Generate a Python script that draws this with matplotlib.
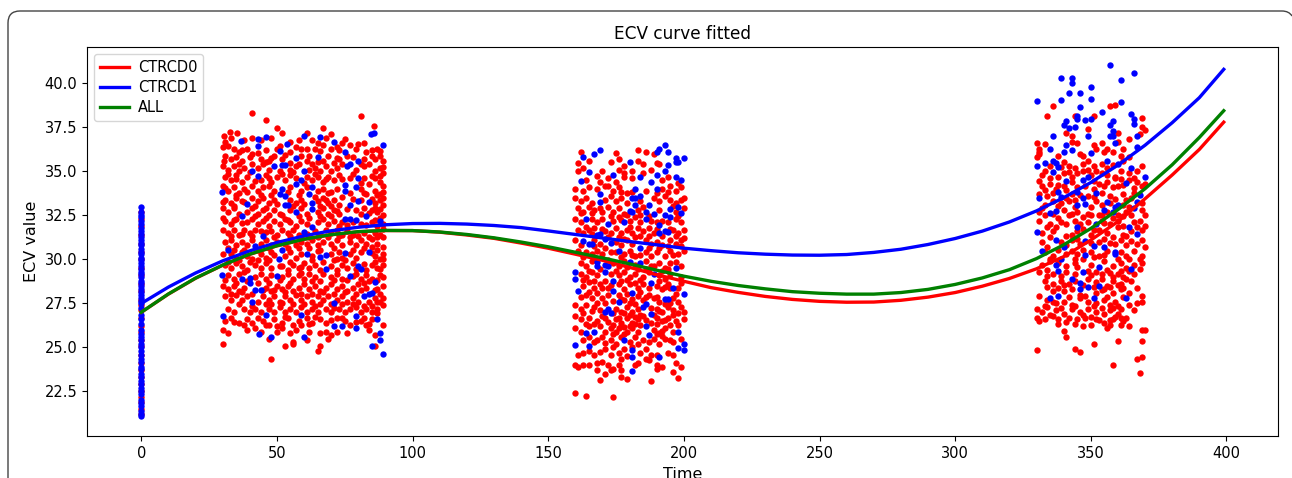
import matplotlib
matplotlib.use('Agg')
import matplotlib.pyplot as plt
from matplotlib.patches import PathPatch
from matplotlib.path import Path
from matplotlib.transforms import IdentityTransform

# values
curve_t = [0, 10, 20, 30, 40, 50, 60, 70, 80, 90, 100, 110, 120, 130, 140, 150, 160, 170, 180, 190, 200, 210, 220, 230, 240, 250, 260, 270, 280, 290, 300, 310, 320, 330, 340, 350, 360, 370, 380, 390, 399]
curve_red = [27.0, 28.03, 28.93, 29.67, 30.29, 30.77, 31.14, 31.40, 31.57, 31.64, 31.64, 31.55, 31.39, 31.2, 30.93, 30.64, 30.3, 29.95, 29.55, 29.13, 28.76, 28.4, 28.13, 27.9, 27.73, 27.62, 27.57, 27.58, 27.68, 27.86, 28.12, 28.48, 28.92, 29.47, 30.16, 31.1, 32.15, 33.45, 34.8, 36.25, 37.8]
curve_blue = [27.5, 28.43, 29.23, 29.92, 30.49, 30.96, 31.34, 31.63, 31.83, 31.97, 32.04, 32.05, 32.01, 31.93, 31.81, 31.62, 31.42, 31.22, 31.02, 30.83, 30.64, 30.5, 30.38, 30.3, 30.25, 30.24, 30.28, 30.4, 30.58, 30.85, 31.19, 31.61, 32.13, 32.76, 33.51, 34.37, 35.36, 36.49, 37.77, 39.19, 40.8]
curve_all = [27.0, 28.04, 28.94, 29.68, 30.30, 30.78, 31.15, 31.41, 31.58, 31.65, 31.64, 31.56, 31.42, 31.23, 30.99, 30.72, 30.41, 30.09, 29.75, 29.39, 29.05, 28.76, 28.52, 28.33, 28.17, 28.08, 28.03, 28.03, 28.12, 28.3, 28.58, 28.95, 29.42, 30.05, 30.83, 31.76, 32.83, 34.02, 35.38, 36.93, 38.45]

zero_red = [21.2, 21.5, 21.9, 22.2, 22.5, 22.9, 23.3, 23.7, 24.1, 24.6, 25.1, 25.4, 25.9, 26.2, 26.7, 27.1, 27.4, 27.7, 28.2, 28.6, 29.1, 29.5, 30.0, 30.4, 30.9, 31.4, 31.9, 32.3, 32.7]
zero_blue = [21.1, 21.2, 21.4, 21.7, 21.85, 22.0, 22.35, 22.55, 22.7, 22.95, 23.1, 23.35, 23.5, 23.75, 23.9, 24.15, 24.35, 24.6, 24.8, 25.0, 25.2, 25.4, 25.6, 25.75, 26.0, 26.35, 26.6, 26.85, 27.25, 27.5, 27.65, 27.8, 28.0, 28.15, 28.3, 28.5, 28.65, 28.8, 29.0, 29.15, 29.3, 29.45, 29.6, 29.8, 29.95, 30.1, 30.3, 30.45, 30.6, 30.8, 30.95, 31.1, 31.3, 31.45, 31.6, 31.8, 32.0, 32.2, 32.4, 32.5, 32.7, 33.0]

first_blue = [(36.9, 36.75), (42.9, 36.85), (46, 36.95), (42.9, 36.47), (53.9, 36.55), (60, 37.0), (66, 36.95), (71, 36.7), (89, 36.5), (84.8, 37.15), (85.9, 37.2), (51, 36.15), (75, 36.1), (56.9, 35.75), (65, 35.8), (80, 35.6), (77, 35.4), (76, 35.3), (52, 35.35), (53, 35.35), (49, 35.3), (41, 35.0), (43, 34.75), (60, 35.0), (80, 34.65), (59, 34.5), (57, 34.3), (75, 34.25), (63, 34.1), (79, 34.1), (75, 33.9), (29.9, 33.85), (52, 34.0), (51, 33.7), (53, 33.6), (62, 33.7), (80, 33.3), (84, 33.25), (63, 33.2), (39, 33.15), (53, 33.1), (54, 33.1), (77, 33.1), (63, 32.85), (57, 32.7), (37, 32.45), (83, 32.45), (75, 32.3), (77, 32.3), (79, 32.25), (88, 32.2), (63, 31.85), (60, 31.55), (45, 31.35), (31.8, 30.54), (42, 30.77), (51.9, 30.54), (50.9, 30.0), (61, 30.33), (65.9, 30.12), (68, 30.27), (75, 30.37), (84, 30.45), (68, 29.44), (80, 29.6), (81, 29.45), (29.9, 29.1), (50, 29.08), (77, 29.08), (37, 28.87), (40, 28.93), (40, 28.65), (86, 28.74), (42, 28.25), (44, 28.25), (85, 28.1), (84, 28.05), (82, 27.9), (41, 27.6), (71, 27.5), (30, 26.8), (46, 26.83), (59, 26.85), (79, 26.8), (87, 26.6), (71, 26.2), (74, 26.2), (79, 26.1), (88, 25.85), (43.5, 25.75), (48, 25.6), (60, 25.6), (88, 25.4), (85, 25.1), (89, 24.65)]

first_red = [(40.9, 38.34), (46, 37.93), (81, 38.17), (85.9, 37.57), (49.9, 37.47), (66.9, 37.47), (52, 37.2), (61, 37.2), (70, 37.1), (32.8, 37.26), (35.3, 37.2), (30.5, 37.0),
    (31, 36.7), (33, 36.9), (38, 36.8), (41, 36.9), (44, 36.8), (48, 36.9), (55, 36.7), (58, 36.8), (63, 36.8), (65, 36.6), (68, 36.9), (72, 36.4), (74, 36.6), (77, 36.5), (79, 36.3), (82, 36.6), (87, 36.3), (30, 36.4), (34, 36.3), (36, 36.1), (39, 36.3), (41, 36.0), (46, 36.2), (50, 36.3), (55, 36.1), (57, 36.4), (61, 36.3), (64, 36.3), (67, 36.5), (70, 36.3), (73, 36.2), (83, 36.1), (85, 36.2),
    (31, 35.9), (33, 35.7), (35, 35.8), (37, 35.6), (40, 35.8), (44, 35.7), (47, 35.6), (49, 35.9), (52, 35.7), (55, 35.5), (59, 35.9), (61, 35.6), (63, 35.4), (67, 35.6), (69, 35.9), (71, 35.5), (73, 35.7), (78, 35.8), (82, 35.7), (84, 35.4), (86, 35.7), (88, 35.9), (89, 35.6),
    (30, 35.3), (32, 35.1), (34, 35.3), (36, 35.0), (38, 35.2), (43, 35.2), (45, 35.4), (47, 35.1), (51, 35.0), (55, 35.1), (57, 35.3), (62, 35.1), (64, 35.2), (66, 35.0), (68, 35.3), (70, 35.0), (72, 35.2), (74, 35.4), (79, 35.1), (82, 35.3), (86, 35.0), (88, 35.2), (89, 34.9),
    (31, 34.7), (33, 34.5), (35, 34.8), (37, 34.4), (39, 34.7), (44, 34.5), (46, 34.8), (48, 34.4), (50, 34.7), (53, 34.5), (55, 34.8), (57, 34.6), (61, 34.7), (63, 34.5), (65, 34.7), (67, 34.4), (69, 34.7), (71, 34.5), (73, 34.8), (77, 34.6), (82, 34.6), (84, 34.3), (86, 34.6), (88, 34.4), (89, 34.2),
    (30, 34.2), (32, 33.9), (34, 34.1), (36, 33.8), (38, 34.0), (41, 34.2), (43, 33.9), (45, 34.1), (47, 34.2), (49, 33.9), (55, 34.1), (59, 33.9), (61, 34.1), (65, 33.9), (67, 34.0), (69, 33.8), (72, 34.0), (77, 33.8), (81, 34.0), (83, 33.7), (86, 33.9), (88, 33.7),
    (31, 33.4), (33, 33.2), (35, 33.5), (37, 33.3), (41, 33.5), (43, 33.3), (45, 33.5), (47, 33.2), (49, 33.4), (55, 33.4), (57, 33.2), (59, 33.4), (65, 33.3), (67, 33.5), (69, 33.2), (71, 33.4), (73, 33.1), (81, 33.4), (86, 33.2), (88, 33.4), (89, 33.1),
    (30, 32.9), (32, 32.7), (34, 32.9), (36, 32.6), (39, 32.7), (41, 32.9), (43, 32.6), (45, 32.8), (47, 32.5), (49, 32.8), (51, 32.6), (55, 32.8), (59, 32.9), (61, 32.6), (65, 32.7), (67, 32.9), (69, 32.6), (71, 32.8), (73, 32.6), (79, 32.8), (81, 32.6), (85, 32.8), (87, 32.7), (89, 32.5),
    (31, 32.2), (33, 32.0), (35, 32.3), (39, 32.1), (41, 32.3), (43, 32.0), (45, 32.2), (47, 31.9), (49, 32.2), (51, 32.0), (53, 32.3), (55, 32.1), (57, 31.9), (59, 32.2), (61, 32.0), (65, 32.1), (67, 32.3), (69, 32.0), (71, 32.2), (73, 31.9), (81, 32.0), (85, 32.1), (87, 31.9), (89, 32.0),
    (30, 31.7), (32, 31.5), (34, 31.7), (36, 31.4), (38, 31.7), (40, 31.5), (42, 31.7), (44, 31.6), (48, 31.6), (50, 31.4), (52, 31.7), (54, 31.5), (56, 31.7), (58, 31.4), (62, 31.3), (64, 31.6), (66, 31.4), (68, 31.7), (70, 31.5), (72, 31.7), (74, 31.4), (76, 31.6), (78, 31.4), (82, 31.5), (84, 31.3), (86, 31.5), (88, 31.4),
    (31, 31.0), (33, 31.1), (35, 30.8), (37, 31.0), (39, 30.8), (41, 31.1), (44, 30.9), (46, 31.1), (48, 30.8), (50, 31.0), (53, 30.9), (55, 31.1), (57, 30.8), (59, 31.0), (61, 30.9), (63, 31.1), (65, 30.8), (67, 31.0), (70, 30.9), (72, 31.1), (74, 30.8), (77, 31.0), (79, 30.8), (81, 31.1), (83, 30.9), (85, 30.7), (87, 30.9), (89, 30.7),
    (30, 30.3), (33, 30.3), (35, 30.1), (37, 30.4), (39, 30.2), (41, 30.0), (44, 30.3), (46, 30.1), (48, 30.4), (53, 30.2), (55, 30.4), (57, 30.1), (59, 30.3), (63, 30.2), (65, 30.5), (70, 30.3), (72, 30.0), (74, 30.1), (77, 30.3), (79, 30.1), (81, 30.4), (86, 30.2), (88, 30.0), (89, 30.3),
    (31, 29.7), (33, 29.5), (35, 29.8), (37, 29.6), (39, 29.4), (42, 29.7), (44, 29.5), (46, 29.8), (48, 29.5), (52, 29.6), (54, 29.4), (56, 29.7), (58, 29.5), (60, 29.8), (62, 29.5), (64, 29.7), (66, 29.4), (70, 29.6), (72, 29.4), (74, 29.7), (76, 29.5), (78, 29.8), (83, 29.4), (85, 29.7), (87, 29.5), (89, 29.7),
    (32, 29.1), (34, 28.9), (36, 29.2), (38, 29.3), (42, 29.0), (44, 29.2), (46, 28.9), (48, 29.1), (52, 29.0), (54, 29.2), (56, 28.9), (58, 29.1), (60, 28.9), (62, 29.2), (64, 29.0), (66, 28.8), (70, 29.0), (72, 29.2), (74, 28.9), (79, 29.2), (81, 28.9), (83, 29.1), (85, 28.9), (88, 29.1),
    (30, 28.5), (32, 28.3), (34, 28.5), (36, 28.2), (38, 28.4), (46, 28.4), (48, 28.2), (50, 28.5), (52, 28.3), (54, 28.5), (56, 28.2), (58, 28.4), (60, 28.6), (62, 28.3), (64, 28.5), (66, 28.2), (68, 28.4), (70, 28.6), (72, 28.3), (74, 28.5), (76, 28.2), (78, 28.4), (80, 28.6), (83, 28.4), (87, 28.3), (89, 28.5),
    (31, 27.9), (33, 27.7), (35, 28.0), (37, 27.7), (39, 27.9), (43, 27.6), (45, 27.9), (47, 27.7), (49, 27.9), (51, 27.6), (53, 27.9), (55, 27.7), (57, 28.0), (59, 27.7), (61, 27.9), (63, 27.6), (65, 27.9), (67, 27.7), (69, 27.9), (72, 27.7), (74, 27.9), (76, 27.6), (78, 27.8), (80, 27.6), (84, 27.6), (86, 27.8), (88, 27.6),
    (32, 27.2), (34, 27.0), (38, 27.2), (40, 27.0), (42, 27.2), (44, 27.0), (47, 27.2), (49, 27.0), (51, 27.3), (53, 27.0), (55, 27.2), (57, 27.0), (59, 27.3), (61, 27.0), (63, 27.2), (65, 27.0), (68, 27.2), (70, 27.0), (73, 27.2), (75, 27.0), (77, 27.2), (79, 27.3), (81, 27.0), (83, 27.2), (85, 27.0), (87, 27.2),
    (31, 26.5), (33, 26.7), (36, 26.4), (39, 26.6), (41, 26.4), (45, 26.5), (47, 26.3), (49, 26.6), (52, 26.4), (54, 26.7), (56, 26.3), (58, 26.5), (61, 26.7), (63, 26.4), (66, 26.6), (68, 26.4), (72, 26.7), (75, 26.5), (77, 26.3), (81, 26.5), (83, 26.3), (85, 26.6),
    (30, 26.0), (32, 25.8), (39, 26.0), (42, 26.1), (44, 25.9), (50, 25.9), (52, 26.1), (55, 25.8), (57, 26.0), (62, 25.9), (66, 25.8), (68, 25.9), (70, 25.7), (72, 25.9), (76, 25.8), (84, 26.0), (86, 25.7),
    (30, 25.2), (48, 24.35), (53, 25.1), (56, 25.3), (65, 24.8), (66, 25.1), (86, 25.1), (47, 25.5), (56, 25.2), (69, 25.5), (61, 25.4)]

# second pass over the dense part of the first group
first_red_more = [(32, 36.45), (37, 36.2), (43, 36.05), (48, 35.75), (51, 36.45), (59, 36.25), (62, 35.85), (66, 36.15), (75, 36.85), (80, 36.55), (88, 36.15), (30.5, 35.6), (36, 35.45), (41, 35.45), (46, 35.55), (53, 35.95), (58, 35.45), (65, 35.55), (72, 35.75), (76, 35.85), (81, 35.45), (85, 35.85), (89, 35.25),
    (32, 34.85), (35, 34.55), (40, 34.95), (42, 34.45), (47, 34.65), (52, 34.85), (56, 34.95), (60, 34.35), (64, 34.85), (68, 34.55), (74, 34.55), (78, 34.85), (81, 34.35), (85, 34.75), (88, 34.75), (89, 33.85),
    (31, 34.05), (35, 33.65), (39, 33.85), (44, 33.65), (48, 33.65), (54, 33.85), (58, 33.65), (64, 33.55), (68, 33.35), (70, 33.85), (74, 33.55), (78, 33.45), (82, 33.75), (85, 33.45), (87, 33.65), (89, 33.5),
    (30, 33.25), (34, 33.05), (38, 33.25), (42, 33.05), (46, 32.95), (50, 33.15), (56, 33.05), (60, 33.15), (66, 33.05), (70, 33.05), (72, 32.75), (76, 32.85), (82, 32.95), (84, 32.65), (86, 32.95), (88, 32.85),
    (30, 32.35), (34, 32.25), (37, 32.05), (42, 32.45), (46, 32.35), (52, 32.55), (54, 32.25), (58, 32.45), (62, 32.35), (66, 32.45), (70, 32.45), (74, 32.15), (76, 31.95), (78, 32.15), (83, 31.95), (86, 32.25), (88, 32.35), (89, 31.75),
    (33, 31.35), (37, 31.45), (41, 31.35), (46, 31.55), (49, 31.25), (55, 31.35), (59, 31.25), (61, 31.45), (65, 31.25), (69, 31.25), (73, 31.35), (77, 31.25), (80, 31.35), (85, 31.15), (87, 31.25), (89, 31.25),
    (32, 30.65), (34, 30.55), (38, 30.55), (43, 30.55), (47, 30.65), (49, 30.25), (54, 30.65), (58, 30.65), (62, 30.65), (66, 30.55), (71, 30.65), (73, 30.45), (78, 30.55), (82, 30.65), (85, 30.35), (87, 30.55), (89, 30.0),
    (32, 29.85), (36, 29.95), (40, 29.85), (43, 29.95), (47, 29.95), (51, 29.65), (55, 29.85), (59, 29.55), (63, 29.95), (67, 29.85), (71, 29.95), (75, 29.95), (79, 29.45), (82, 29.75), (86, 29.85), (88, 29.45),
    (31, 28.85), (35, 28.65), (39, 28.75), (43, 28.65), (47, 28.65), (51, 28.85), (55, 28.65), (59, 29.25), (63, 28.75), (67, 29.15), (71, 28.85), (76, 28.85), (78, 29.05), (82, 28.65), (84, 28.75), (87, 28.85), (89, 29.0),
    (33, 28.05), (37, 28.15), (41, 28.05), (45, 28.25), (49, 28.25), (53, 28.15), (59, 28.05), (63, 28.05), (67, 28.15), (71, 28.05), (75, 28.15), (79, 28.05), (81, 28.25), (86, 28.25), (88, 28.05), (89, 27.8),
    (36, 27.45), (41, 27.35), (46, 27.45), (48, 27.45), (52, 27.55), (56, 27.45), (60, 27.45), (64, 27.35), (66, 27.45), (70, 27.45), (71, 27.25), (74, 27.45), (78, 27.45), (82, 27.35), (85, 27.35), (87, 27.6), (89, 27.4),
    (34, 26.45), (38, 26.25), (43, 26.65), (46, 26.25), (50, 26.2), (53, 26.75), (59, 26.25), (62, 26.35), (64, 26.75), (70, 26.55), (74, 26.65), (79, 26.45), (82, 26.65), (84, 26.35), (87, 26.95), (89, 26.3)]

second_blue = [(169, 36.2), (167, 36.0), (163, 35.8), (193, 36.5), (191, 36.26), (190, 36.13), (194, 36.13), (197, 35.77), (200, 35.79), (197, 35.52), (198, 35.52), (194, 35.35), (180, 35.56), (193, 35.0), (165, 34.95), (174, 34.8), (184, 34.7), (190, 34.8), (197, 34.67), (199, 34.5), (162, 34.46), (188, 34.4), (190, 34.0), (182, 34.0), (169, 33.7), (184, 33.6), (181, 33.5), (182, 33.5), (169, 33.27), (182, 33.1), (187, 33.1), (198, 33.0), (180, 32.75), (181, 32.7), (186, 32.7), (199, 32.66), (189, 32.6), (193, 32.5), (195, 32.85), (195, 32.4), (164, 32.3), (186, 32.3), (178, 32.1), (172, 32.0), (191, 31.96), (191, 31.5), (193, 31.6), (194, 31.55), (169, 31.45), (168, 31.37), (163, 31.07), (165, 30.9), (166, 30.9), (171, 31.15), (173, 30.96), (184, 30.65), (176, 30.5), (168, 29.85), (168, 29.6), (171, 29.7), (172, 29.65), (180, 29.84), (184, 29.8), (171, 29.3), (160, 29.3), (160, 28.9), (174, 28.8), (197, 29.5), (189, 29.2), (188, 28.65), (196, 28.4), (161, 28.2), (174, 28.2), (181, 28.1), (200, 28.05), (193, 27.74), (194, 27.74), (176, 27.57), (186, 27.47), (185, 27.3), (172, 27.17), (171, 27.0), (173, 26.96), (188, 26.9), (186, 26.2), (167, 25.9), (164, 25.8), (198, 25.9), (187, 25.7), (178, 25.45), (160, 25.16), (165, 25.07), (200, 25.2), (198, 24.97), (200, 24.84), (181, 24.84), (181, 24.44), (191, 24.44), (181, 23.65)]

second_red = [(162, 36.1), (175, 36.05), (183, 36.2), (186, 36.1), (189, 36.0), (161, 35.5), (165, 35.6), (173, 35.55), (176, 35.7), (178, 35.3), (183, 35.6), (185, 35.4), (190, 35.5), (161, 35.0), (163, 35.2), (170, 35.0), (176, 35.1), (178, 34.9), (181, 35.0), (185, 34.9), (188, 35.1), (191, 35.4), (164, 34.5), (169, 34.4), (172, 34.6), (175, 34.4), (178, 34.7), (181, 34.6), (192, 34.5), (194, 34.7), (160, 34.0), (163, 33.9), (165, 34.1), (168, 34.0), (171, 34.2), (174, 33.9), (176, 34.1), (179, 33.8), (186, 33.9), (192, 34.0), (195, 34.2), (197, 33.9), (199, 34.1),
    (160, 33.5), (162, 33.3), (164, 33.5), (166, 33.2), (171, 33.4), (173, 33.6), (175, 33.3), (177, 33.5), (179, 33.2), (184, 33.3), (189, 33.5), (191, 33.3), (193, 33.6), (195, 33.4), (197, 33.2), (200, 33.5), (161, 32.9), (163, 32.7), (165, 33.0), (167, 32.8), (170, 32.7), (172, 33.0), (174, 32.7), (176, 32.9), (178, 32.6), (183, 32.8), (185, 33.0), (191, 32.8), (197, 32.7), (200, 32.9), (160, 32.3), (162, 32.1), (166, 32.3), (168, 32.1), (170, 32.3), (174, 32.2), (176, 32.4), (180, 32.2), (182, 32.4), (184, 32.1), (188, 32.2), (192, 32.2), (197, 32.3), (199, 32.1),
    (161, 31.7), (163, 31.5), (165, 31.7), (167, 31.8), (171, 31.6), (173, 31.5), (175, 31.8), (177, 31.5), (179, 31.7), (181, 31.5), (183, 31.8), (185, 31.6), (187, 31.8), (189, 31.5), (196, 31.7), (198, 31.5), (200, 31.7), (160, 31.1), (162, 30.8), (167, 31.1), (169, 30.9), (175, 31.0), (177, 30.8), (179, 31.1), (181, 30.9), (186, 31.1), (188, 30.9), (190, 31.0), (192, 30.8), (195, 31.1), (197, 30.9), (199, 31.1), (161, 30.5), (164, 30.4), (166, 30.3), (168, 30.5), (170, 30.3), (173, 30.4), (178, 30.3), (180, 30.5), (182, 30.2), (186, 30.4), (188, 30.2), (190, 30.4), (193, 30.2), (195, 30.5), (198, 30.3), (200, 30.5),
    (162, 29.8), (164, 29.6), (166, 29.9), (174, 29.8), (176, 29.6), (178, 29.9), (182, 29.7), (186, 29.9), (188, 29.6), (191, 29.8), (193, 29.5), (195, 29.8), (199, 29.6), (162, 29.2), (164, 29.0), (166, 29.3), (168, 29.1), (173, 29.2), (176, 29.1), (178, 29.3), (180, 29.0), (182, 29.2), (185, 29.0), (187, 29.3), (191, 29.1), (193, 28.9), (195, 29.2), (199, 29.0), (163, 28.5), (165, 28.7), (167, 28.4), (169, 28.6), (171, 28.8), (172, 28.4), (176, 28.6), (178, 28.3), (180, 28.6), (183, 28.4), (185, 28.6), (190, 28.5), (192, 28.3), (194, 28.6), (198, 28.4),
    (164, 28.0), (166, 27.8), (168, 28.1), (170, 27.8), (172, 28.0), (176, 28.0), (178, 27.7), (180, 27.5), (183, 27.9), (185, 27.7), (187, 28.0), (189, 27.8), (191, 27.6), (196, 27.8), (198, 27.6), (160, 27.4), (162, 27.2), (164, 27.4), (167, 27.3), (169, 27.1), (175, 27.2), (177, 27.0), (179, 27.3), (181, 27.0), (183, 27.2), (190, 27.2), (192, 27.0), (194, 27.3), (196, 27.1), (199, 27.3), (200, 27.0), (160, 26.8), (162, 26.6), (165, 26.7), (168, 26.5), (170, 26.8), (175, 26.6), (177, 26.4), (179, 26.7), (181, 26.4), (183, 26.6), (185, 26.8), (190, 26.7), (192, 26.5), (194, 26.7), (197, 26.5),
    (160, 26.1), (162, 25.9), (165, 26.2), (169, 26.2), (171, 25.9), (173, 26.1), (175, 25.9), (177, 26.2), (179, 25.9), (181, 26.1), (183, 25.9), (189, 26.0), (191, 25.8), (193, 26.1), (196, 25.9), (163, 25.4), (165, 25.6), (168, 25.4), (170, 25.6), (173, 25.4), (175, 25.2), (177, 25.6), (180, 25.3), (182, 25.6), (185, 25.4), (189, 25.5), (191, 25.2), (193, 25.5), (196, 25.3), (199, 25.5), (163, 24.7), (165, 24.8), (171, 24.9), (173, 24.6), (176, 24.7), (178, 24.9), (179, 24.5), (184, 24.7), (186, 24.9), (188, 24.6), (194, 24.7), (160, 24.0), (161, 23.9), (163, 24.0), (165, 24.0), (168, 24.1), (170, 24.2), (172, 24.0), (174, 23.8), (176, 24.0), (182, 24.0), (183, 24.1), (187, 24.3), (190, 24.0), (192, 23.9), (197, 24.1), (199, 23.9), (168, 23.7), (171, 23.5), (173, 23.7), (177, 23.7), (190, 23.8),
    (160, 22.43), (164, 22.25), (174, 22.2), (188, 23.1), (169, 23.13), (177, 23.3), (179, 23.2), (198, 23.25), (196, 23.6)]

second_red_more = [(168, 34.75), (172, 34.15), (177, 33.85), (181, 33.85), (190, 33.75), (194, 33.85), (198, 34.35), (199, 33.35), (162, 32.65), (166, 32.65), (169, 32.95), (173, 32.45), (177, 32.25), (179, 32.55), (184, 32.55), (187, 32.45), (190, 32.15), (194, 32.15), (196, 33.05), (198, 32.45), (164, 31.85), (166, 31.45), (170, 31.75), (172, 31.25), (176, 31.25), (178, 31.15), (180, 31.85), (182, 31.25), (184, 31.35), (187, 31.35), (190, 31.75), (192, 31.35), (195, 31.75), (197, 31.35), (200, 31.2),
    (163, 30.15), (167, 30.75), (171, 30.65), (175, 30.45), (177, 30.15), (181, 30.25), (184, 30.25), (187, 30.65), (191, 30.65), (194, 30.75), (196, 30.25), (199, 30.75), (165, 29.35), (169, 29.45), (172, 29.95), (175, 29.35), (179, 29.55), (183, 29.45), (186, 29.45), (189, 29.65), (192, 29.35), (194, 29.45), (197, 29.85), (163, 28.85), (167, 28.75), (170, 28.35), (173, 28.55), (177, 28.75), (179, 28.85), (182, 28.65), (184, 28.85), (187, 28.35), (191, 28.75), (193, 28.45), (195, 28.35), (199, 28.65),
    (162, 27.85), (165, 28.15), (168, 27.55), (171, 27.55), (174, 27.65), (177, 27.75), (179, 28.05), (181, 27.75), (182, 27.45), (184, 28.15), (186, 27.85), (188, 27.25), (190, 27.85), (193, 27.45), (195, 27.55), (197, 28.05), (163, 26.95), (166, 27.05), (171, 26.65), (174, 26.95), (176, 26.65), (178, 26.95), (180, 26.85), (182, 26.75), (184, 26.85), (186, 26.55), (189, 26.85), (191, 27.05), (193, 26.55), (196, 26.85), (198, 26.95), (200, 26.6),
    (164, 26.35), (167, 26.35), (172, 26.45), (174, 26.25), (176, 26.1), (178, 26.15), (180, 26.2), (182, 26.35), (184, 26.25), (188, 26.4), (190, 26.35), (192, 25.95), (195, 26.25), (198, 26.25), (167, 25.3), (171, 25.25), (174, 25.75), (178, 25.75), (183, 25.2), (187, 25.3), (190, 25.75), (192, 25.65), (195, 25.45), (161, 24.55), (167, 24.55), (169, 24.75), (174, 25.05), (177, 24.35), (181, 25.05), (186, 24.35), (190, 24.55), (196, 24.55)]

third_blue = [(357, 41.05), (366, 40.6), (339, 40.3), (343, 40.3), (343, 40.0), (361, 40.2), (350, 39.8), (342, 39.44), (346, 39.48), (350, 39.13), (339, 39.06), (330, 39.0), (361, 38.93), (346, 38.64), (354, 38.4), (365, 38.28), (366, 38.0), (345, 38.17), (345, 38.0), (348, 37.9), (350, 38.0), (341, 37.87), (340, 37.64), (344, 37.54), (342, 37.45), (358, 37.85), (357, 37.62), (366, 37.7), (358, 37.3), (357, 37.0), (358, 37.0), (349, 37.0), (336, 37.0), (367, 37.0), (359, 36.6), (335, 36.3), (343, 36.24), (340, 36.12), (341, 36.5), (367, 36.4), (350, 36.03), (356, 35.6), (336, 35.6), (333, 35.5), (330, 35.3), (337, 35.46), (338, 35.27), (360, 35.4), (365, 35.18), (336, 34.95), (370, 34.7), (349, 34.66), (347, 34.53), (341, 34.46), (363, 34.34), (338, 33.83), (345, 33.83), (352, 33.75), (339, 33.53), (347, 33.5), (331, 33.47), (368, 33.66), (356, 33.26), (367, 33.26), (345, 33.07), (348, 33.13), (360, 33.07), (359, 33.0), (355, 32.83), (358, 32.68), (337, 32.75), (335, 32.62), (366, 32.94), (352, 32.0), (345, 31.86), (364, 31.86), (330, 31.54), (367, 31.46), (337, 31.09), (348, 31.07), (340, 30.7), (351, 30.78), (355, 30.7), (359, 30.44), (359, 30.3), (332, 30.5), (348, 30.23), (339, 30.04), (337, 29.68), (353, 29.55), (365, 29.44), (338, 29.32), (347, 29.27), (343, 28.9), (346, 28.66), (346, 28.32), (349, 28.43), (353, 28.47), (351, 27.8), (338, 27.9), (335, 27.8), (363, 27.8)]

third_red = [(336, 38.72), (334, 38.13), (357, 38.72), (359, 38.8), (369, 38.04), (351, 38.17), (344, 38.17), (369, 37.5), (370, 37.35), (330, 24.87), (344, 24.9), (346, 24.76), (351, 25.2), (360, 25.35), (369, 25.38), (369, 26.0), (370, 26.0), (358, 24.0), (367, 24.32), (369, 24.46), (368, 23.57), (341, 25.6), (340, 25.93),
    (341, 37.2), (343, 37.0), (349, 37.4), (360, 37.2), (364, 36.85), (368, 37.15), (330, 36.6), (331, 36.3), (333, 36.55), (331, 36.1), (343, 36.7), (345, 36.6), (351, 36.5), (354, 36.6), (356, 36.3), (358, 36.1), (360, 36.7), (330, 35.8), (331, 36.0), (346, 36.0), (349, 35.6), (355, 36.1), (361, 35.9), (362, 35.6), (364, 35.8),
    (335, 35.3), (342, 35.3), (344, 35.2), (347, 35.4), (349, 35.1), (351, 35.3), (356, 35.2), (361, 35.0), (367, 35.0), (369, 35.3), (332, 34.8), (335, 34.6), (338, 34.7), (340, 34.9), (343, 34.7), (345, 34.9), (347, 35.0), (350, 34.8), (352, 35.0), (354, 34.9), (356, 34.8), (359, 34.7), (364, 34.9), (366, 34.6),
    (332, 34.2), (335, 34.3), (337, 34.0), (340, 34.2), (343, 34.4), (345, 34.1), (348, 34.2), (351, 34.0), (353, 34.3), (356, 34.4), (358, 34.1), (360, 34.2), (364, 34.5), (367, 34.4), (369, 34.2), (370, 34.3), (331, 33.7), (334, 33.6), (336, 33.8), (341, 33.5), (343, 33.7), (349, 33.6), (354, 33.8), (357, 33.6), (362, 33.7), (365, 33.5),
    (333, 33.1), (336, 33.3), (339, 33.2), (342, 33.3), (344, 33.0), (350, 33.0), (352, 33.3), (354, 33.1), (357, 33.2), (362, 33.1), (364, 33.0), (369, 33.2), (331, 32.7), (333, 32.5), (336, 32.6), (340, 32.8), (343, 32.6), (345, 32.7), (347, 32.4), (349, 32.6), (353, 32.5), (356, 32.7), (360, 32.5), (363, 32.7), (369, 32.8), (370, 32.5),
    (331, 32.2), (335, 32.0), (339, 32.1), (344, 32.2), (346, 32.0), (349, 32.1), (354, 32.2), (357, 32.0), (360, 32.2), (362, 31.9), (366, 32.1), (368, 32.2), (370, 31.9), (332, 31.5), (336, 31.6), (343, 31.4), (345, 31.6), (350, 31.4), (353, 31.7), (356, 31.5), (358, 31.3), (362, 31.4), (365, 31.6), (369, 31.7),
    (332, 31.0), (334, 30.7), (339, 31.0), (341, 30.8), (343, 31.1), (346, 30.9), (353, 31.0), (359, 30.9), (361, 31.1), (363, 30.8), (369, 31.1), (333, 30.4), (336, 30.2), (341, 30.3), (343, 30.5), (345, 30.3), (350, 30.4), (353, 30.2), (356, 30.5), (361, 30.4), (363, 30.2), (366, 30.5), (369, 30.2), (370, 30.7),
    (332, 29.7), (335, 29.9), (338, 29.8), (341, 29.6), (344, 29.8), (347, 30.0), (350, 29.7), (355, 29.9), (358, 29.6), (361, 29.8), (363, 29.5), (366, 29.7), (369, 29.8), (331, 29.3), (334, 29.4), (336, 29.2), (341, 29.3), (344, 29.2), (350, 29.1), (352, 29.3), (356, 29.4), (358, 29.0), (360, 29.2), (362, 29.0), (366, 29.2), (333, 28.8), (336, 28.6), (339, 28.8), (342, 28.6), (349, 28.9), (352, 28.7), (354, 28.9), (356, 28.5), (358, 28.8), (361, 28.6), (363, 28.9), (336, 28.2), (338, 28.4), (340, 28.2), (343, 28.3), (346, 28.0), (352, 28.1), (355, 28.3), (358, 28.1), (361, 28.3), (364, 28.1), (367, 28.4), (369, 27.9),
    (331, 27.9), (334, 27.7), (337, 27.5), (340, 27.6), (343, 27.4), (346, 27.8), (349, 27.6), (352, 27.5), (355, 27.7), (357, 27.4), (359, 27.6), (361, 27.2), (364, 27.4), (367, 27.5), (369, 27.6), (330, 27.2), (332, 27.0), (334, 27.3), (337, 27.1), (340, 26.9), (343, 27.2), (346, 27.0), (349, 27.2), (352, 27.0), (355, 26.9), (357, 27.1), (360, 26.9), (363, 26.7), (330, 26.7), (331, 26.5), (333, 26.6), (336, 26.8), (338, 26.6), (342, 26.7), (345, 26.6), (348, 26.7), (352, 26.6), (355, 26.4), (358, 26.6), (362, 26.5), (364, 26.2), (347, 26.2), (350, 26.3), (356, 26.1), (361, 26.3)]

third_red_more = [(338, 35.85), (340, 35.55), (347, 35.85), (352, 36.25), (362, 36.25), (333, 35.05), (339, 35.25), (342, 34.95), (354, 35.45), (358, 35.35), (361, 34.55), (331, 34.45), (338, 34.25), (341, 33.95), (346, 33.65), (351, 34.45), (355, 34.15), (359, 34.65), (362, 34.25), (366, 34.05), (333, 33.95), (338, 33.05), (344, 33.35), (351, 33.55), (359, 33.45), (363, 33.35), (366, 33.75), (332, 32.95), (338, 32.35), (342, 32.55), (350, 32.55), (354, 32.55), (358, 32.35), (362, 32.45), (365, 32.55), (334, 31.85), (337, 31.85), (341, 32.0), (347, 31.75), (351, 31.65), (355, 32.05), (360, 31.85), (363, 31.35), (367, 31.85), (335, 31.25), (341, 31.35), (345, 31.15), (350, 30.95), (355, 31.15), (357, 30.95), (365, 31.05), (367, 30.85), (335, 30.05), (338, 30.55), (344, 30.05), (347, 30.55), (351, 30.15), (355, 30.25), (360, 30.0), (364, 30.05), (368, 30.05),
    (334, 29.05), (339, 29.05), (345, 29.55), (349, 29.35), (354, 29.15), (357, 29.25), (361, 29.35), (364, 29.35), (368, 29.45), (334, 28.45), (340, 28.55), (344, 28.75), (347, 28.55), (351, 28.45), (354, 28.25), (357, 28.45), (360, 28.55), (362, 28.35), (365, 28.75), (333, 27.35), (336, 27.6), (339, 27.25), (342, 27.85), (344, 27.35), (348, 27.95), (351, 27.35), (354, 27.25), (356, 27.85), (358, 27.25), (360, 27.35), (362, 27.85), (366, 27.15), (335, 26.85), (338, 26.35), (341, 26.45), (344, 26.35), (347, 26.85), (350, 26.75), (353, 26.55), (357, 26.55), (359, 26.75), (361, 26.65), (357, 26.3)]


def split(points):
    return [p[0] for p in points], [p[1] for p in points]


plt.figure(figsize=(12.92, 4.78), dpi=100)
ax = plt.axes([87 / 1292, 1 - 436 / 478, (1278 - 87) / 1292, (436 - 47) / 478])

dot = 21
ax.scatter([0] * len(zero_red), zero_red, s=dot, c='red', linewidths=0)
for pts in (first_red, first_red_more, second_red, second_red_more, third_red, third_red_more):
    x, y = split(pts)
    ax.scatter(x, y, s=dot, c='red', linewidths=0)
ax.scatter([0] * len(zero_blue), zero_blue, s=dot, c='blue', linewidths=0)
for pts in (first_blue, second_blue, third_blue):
    x, y = split(pts)
    ax.scatter(x, y, s=dot, c='blue', linewidths=0)

ax.plot(curve_t, curve_red, color='red', lw=2.4, label='CTRCD0')
ax.plot(curve_t, curve_blue, color='blue', lw=2.4, label='CTRCD1')
ax.plot(curve_t, curve_all, color='green', lw=2.4, label='ALL')

ax.set_xlim(-20, 419)
ax.set_ylim(19.97, 42.07)
ax.set_yticks([22.5, 25.0, 27.5, 30.0, 32.5, 35.0, 37.5, 40.0])
ax.set_xticks([0, 50, 100, 150, 200, 250, 300, 350, 400])
ax.tick_params(labelsize=10.5)
ax.set_title('ECV curve fitted', fontsize=12.2, pad=6)
ax.set_xlabel('Time', fontsize=11.5, labelpad=4.5)
ax.set_ylabel('ECV value', fontsize=11.5, labelpad=4)
ax.legend(loc='upper left', fontsize=10.5, labelspacing=0.35, handletextpad=0.6)

# rounded frame of the page the chart sits on, open at the bottom and right
frame_path = Path([(8, 0), (8, 455), (8, 467), (20, 467), (1282, 467), (1289, 467), (1292, 462)],
                  [Path.MOVETO, Path.LINETO, Path.CURVE3, Path.CURVE3, Path.LINETO, Path.CURVE3, Path.CURVE3])
frame = PathPatch(frame_path, transform=IdentityTransform(), facecolor='none', edgecolor='#444444', lw=1)
plt.gcf().add_artist(frame)

plt.savefig('out.png', dpi=100)
